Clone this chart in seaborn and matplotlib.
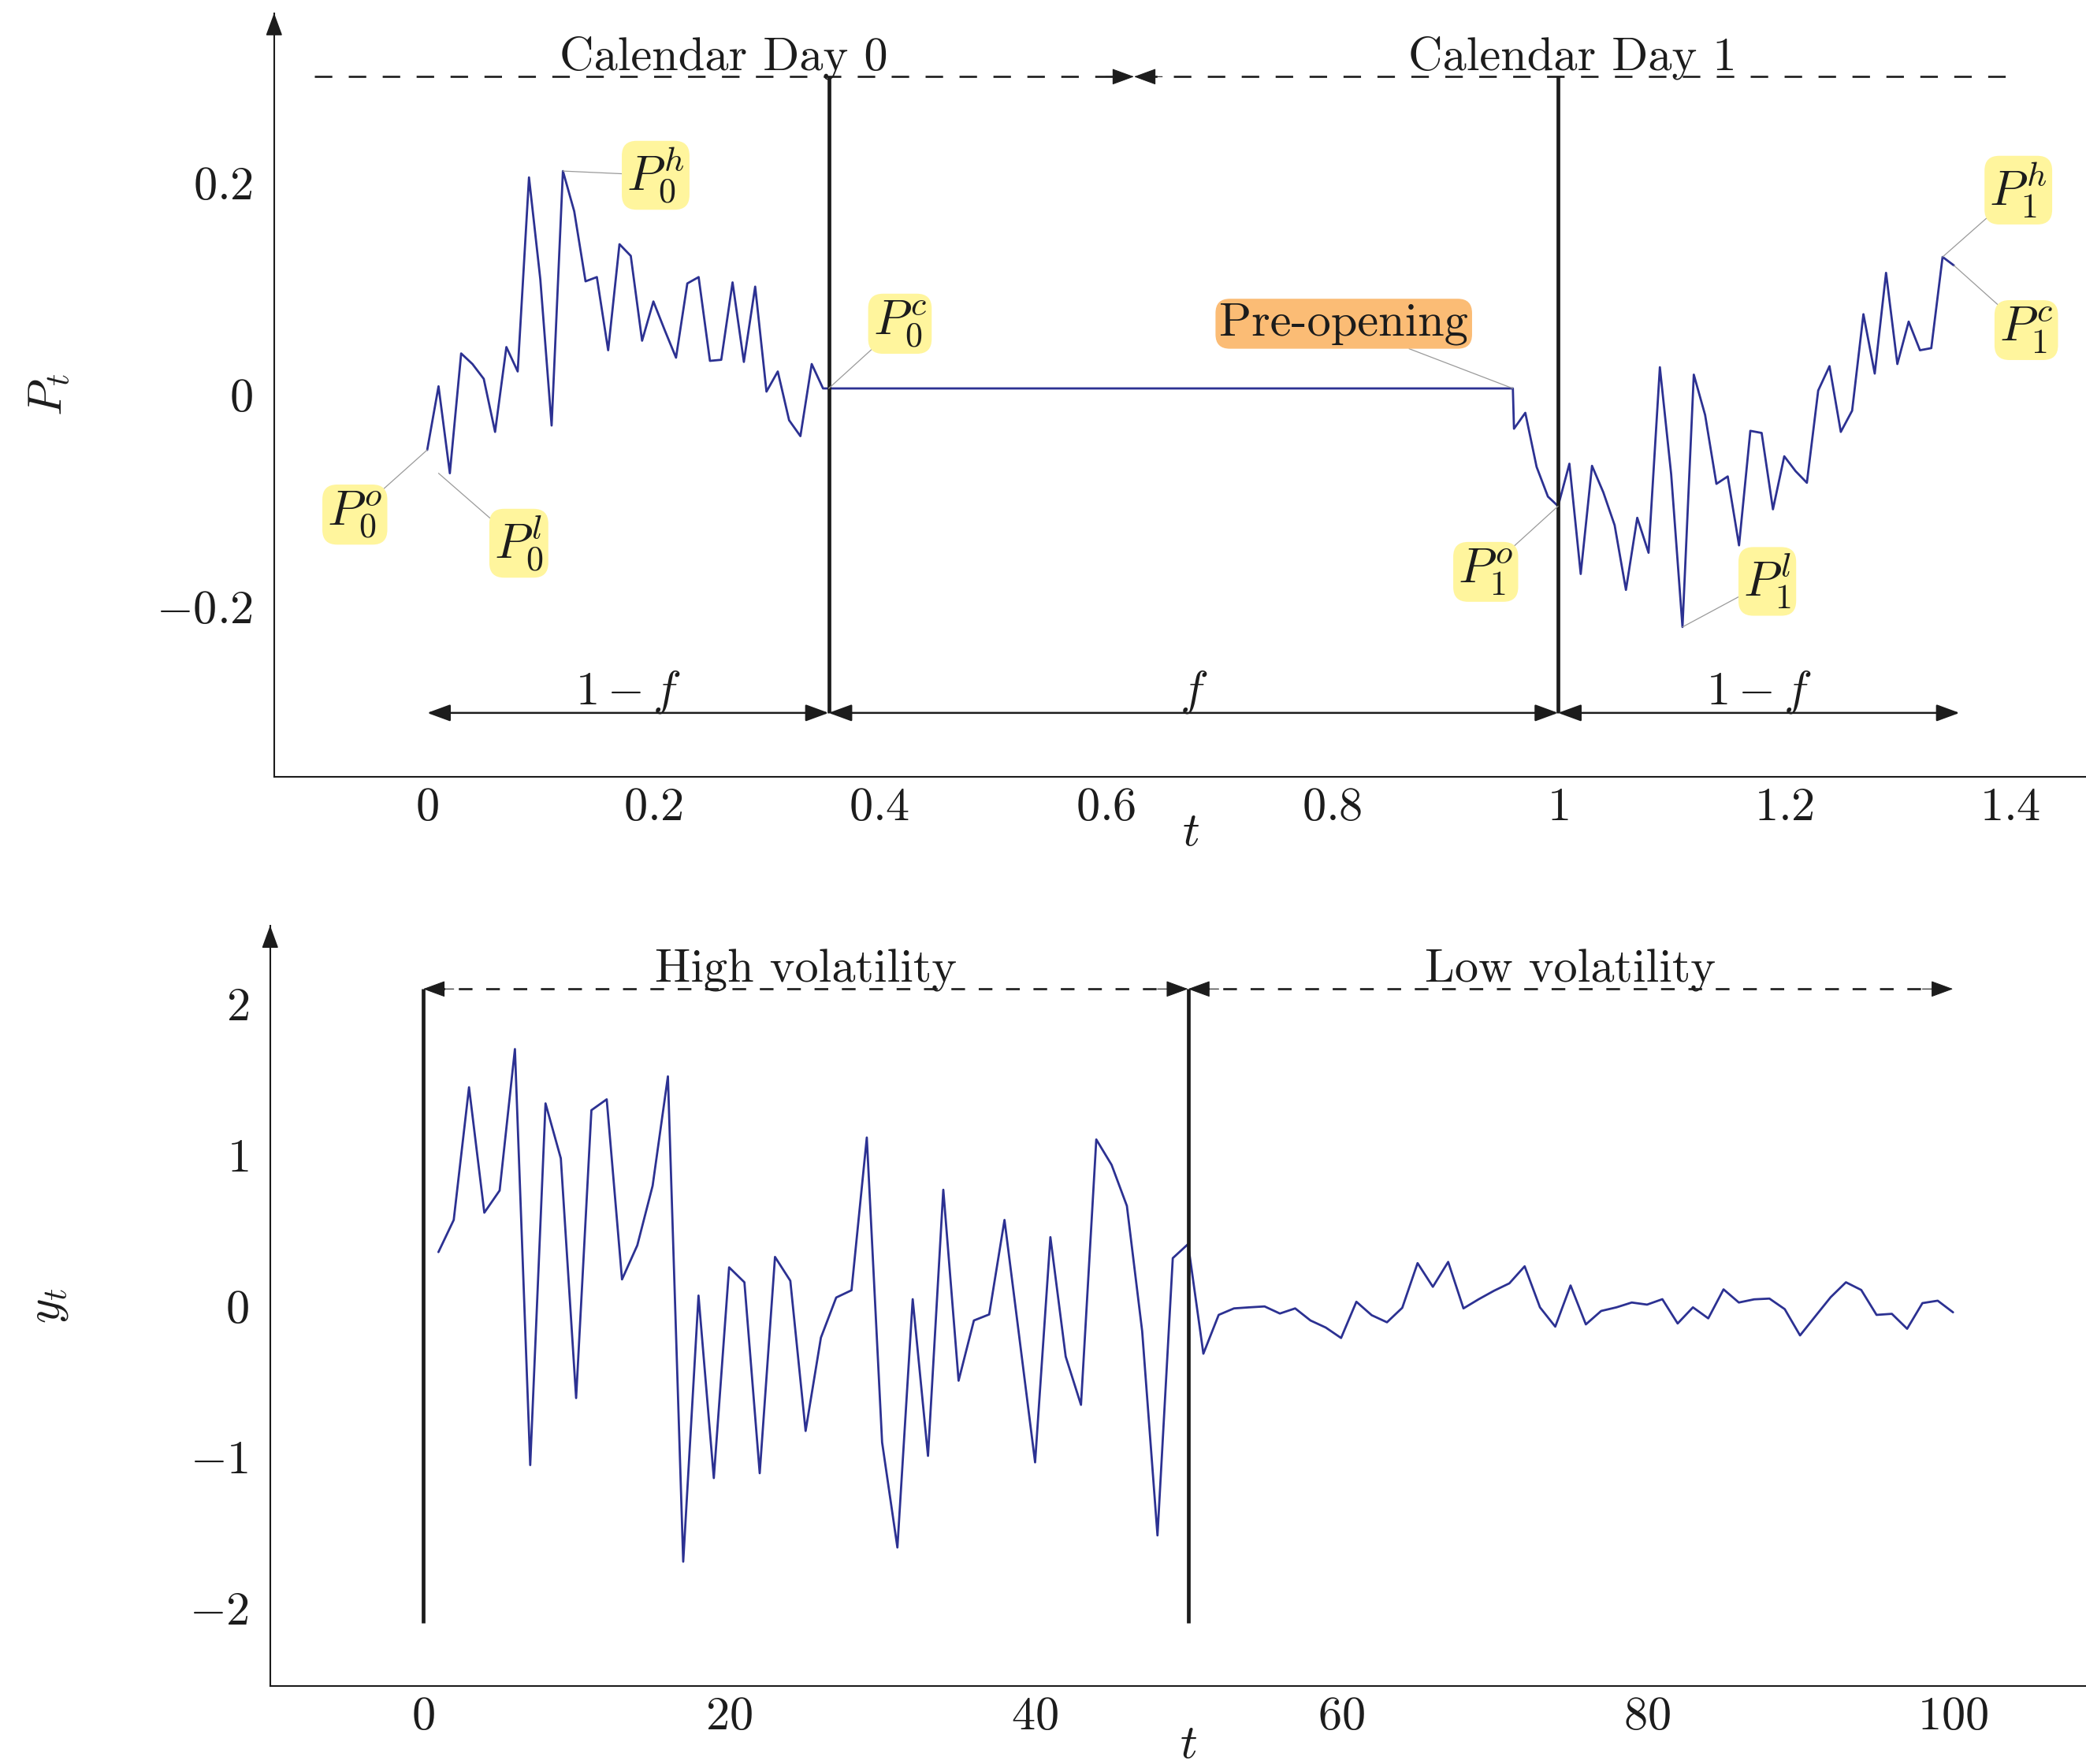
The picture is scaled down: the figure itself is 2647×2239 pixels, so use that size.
import numpy as np
import pandas as pd
import matplotlib
matplotlib.use("Agg")
import matplotlib.pyplot as plt
import seaborn as sns

# --- top panel: price path over two calendar days ---
day0_t = np.round(np.arange(36) * 0.01, 2)
day0_p = [-0.052, 0.008, -0.074, 0.039, 0.029, 0.015, -0.035, 0.045, 0.022, 0.205,
          0.109, -0.029, 0.211, 0.173, 0.107, 0.111, 0.042, 0.142, 0.131, 0.051,
          0.088, 0.061, 0.035, 0.105, 0.111, 0.032, 0.033, 0.106, 0.031, 0.102,
          0.003, 0.022, -0.024, -0.039, 0.029, 0.006]
pre_t = [0.96, 0.961, 0.971, 0.981, 0.991]
pre_p = [0.006, -0.032, -0.017, -0.068, -0.096]
day1_t = np.round(1 + np.arange(36) * 0.01, 2)
day1_p = [-0.105, -0.065, -0.169, -0.067, -0.092, -0.123, -0.184, -0.116, -0.149, 0.026,
          -0.075, -0.219, 0.019, -0.019, -0.084, -0.077, -0.142, -0.034, -0.036, -0.108,
          -0.058, -0.072, -0.083, 0.004, 0.027, -0.035, -0.015, 0.076, 0.020, 0.115,
          0.029, 0.069, 0.042, 0.044, 0.130, 0.122]

# --- bottom panel: returns, high then low volatility ---
ret_t = np.arange(1, 101)
ret_y = [0.357, 0.570, 1.449, 0.618, 0.765, 1.702, -1.054, 1.342, 0.978, -0.610,
         1.297, 1.369, 0.176, 0.402, 0.796, 1.521, -1.694, 0.069, -1.140, 0.256,
         0.157, -1.108, 0.325, 0.167, -0.828, -0.210, 0.056, 0.104, 1.116, -0.903,
         -1.600, 0.045, -0.993, 0.770, -0.495, -0.096, -0.056, 0.570, -0.232, -1.036,
         0.456, -0.335, -0.655, 1.103, 0.935, 0.663, -0.168, -1.520, 0.317, 0.410,
         -0.316, -0.059, -0.016, -0.009, -0.003, -0.050, -0.016, -0.096, -0.143, -0.212,
         0.028, -0.061, -0.108, -0.012, 0.284, 0.127, 0.292, -0.016, 0.045, 0.101,
         0.150, 0.263, -0.009, -0.137, 0.136, -0.122, -0.033, -0.009, 0.023, 0.009,
         0.045, -0.116, -0.009, -0.082, 0.110, 0.023, 0.044, 0.049, -0.021, -0.195,
         -0.068, 0.058, 0.157, 0.106, -0.059, -0.052, -0.151, 0.019, 0.035, -0.042]

# label text, label position, point it refers to
top_labels = [
    (r"$P_0^o$", (-0.064, -0.113), (0.0, -0.052)),
    (r"$P_0^l$", (0.081, -0.140), (0.01, -0.074)),
    (r"$P_0^h$", (0.202, 0.207), (0.12, 0.211)),
    (r"$P_0^c$", (0.418, 0.067), (0.355, 0.006)),
    (r"$P_1^o$", (0.936, -0.167), (1.0, -0.105)),
    (r"$P_1^l$", (1.185, -0.176), (1.11, -0.219)),
    (r"$P_1^h$", (1.407, 0.193), (1.34, 0.130)),
    (r"$P_1^c$", (1.414, 0.061), (1.35, 0.122)),
]

LINE = "#2c3192"
INK = "#1c1c1c"
FS = 43.5
HEAD = "-|>,head_length=0.9,head_width=0.33"
HEAD2 = "<|-|>,head_length=0.9,head_width=0.33"

sns.set_theme(style="white")
plt.rcParams["font.family"] = ["cmr10", "DejaVu Serif"]
plt.rcParams["mathtext.fontset"] = "cm"
plt.rcParams["axes.unicode_minus"] = False
plt.rcParams["lines.scale_dashes"] = False

fig = plt.figure(figsize=(26.47, 22.39), dpi=100)
ax1 = fig.add_axes([0.1314, 0.5598, 0.8790, 0.4328])
ax2 = fig.add_axes([0.1295, 0.0440, 0.8801, 0.4313])


def style_axes(ax):
    sns.despine(ax=ax)
    for s in ("left", "bottom"):
        ax.spines[s].set_color(INK)
        ax.spines[s].set_linewidth(1.5)
    ax.tick_params(axis="x", direction="inout", length=18, width=0.8,
                   color="#a0a0a0", pad=0.5, labelsize=FS, labelcolor=INK)
    ax.tick_params(axis="y", direction="inout", length=36, width=0.8,
                   color="#a0a0a0", pad=1.5, labelsize=FS, labelcolor=INK)
    # arrow tip on the y axis
    ax.annotate("", xy=(0, 1), xycoords="axes fraction", xytext=(0, 0.97),
                arrowprops=dict(arrowstyle=HEAD, mutation_scale=20, color=INK,
                                lw=1.2, shrinkA=0, shrinkB=0),
                annotation_clip=False)


def head(ax, x_from, x_to, y):
    ax.annotate("", xy=(x_to, y), xytext=(x_from, y),
                arrowprops=dict(arrowstyle=HEAD, mutation_scale=20, color=INK,
                                lw=0.8, shrinkA=0, shrinkB=0))


def over(ax, text, x, y, dy):
    ax.annotate(text, xy=(x, y), xytext=(0, dy), textcoords="offset points",
                ha="center", va="baseline", fontsize=FS, color=INK)


# ---------- top panel ----------
top = pd.DataFrame({
    "t": np.concatenate([day0_t, pre_t, day1_t]),
    "P": np.concatenate([day0_p, pre_p, day1_p]),
})
sns.lineplot(data=top, x="t", y="P", ax=ax1, color=LINE, lw=2.0,
             estimator=None, sort=False, zorder=3)
ax1.set_xlim(-0.1354, 1.486)
ax1.set_ylim(-0.36, 0.36)

ax1.vlines([0.355, 1.0], -0.3, 0.3, color=INK, lw=3.4, zorder=4)

# calendar day dashed arrows
ax1.plot([-0.1, 0.62], [0.3, 0.3], color=INK, lw=1.9, ls=(0, (16, 15)))
ax1.plot([0.63, 1.4], [0.3, 0.3], color=INK, lw=1.9, ls=(0, (16, 15)))
head(ax1, 0.60, 0.625, 0.3)
head(ax1, 0.65, 0.625, 0.3)
over(ax1, "Calendar Day 0", 0.2625, 0.3, 6.5)
over(ax1, "Calendar Day 1", 1.0125, 0.3, 6.5)

# trading / non-trading spans
for a, b, lab in [(0.0, 0.355, r"$1-f$"), (0.355, 1.0, r"$f$"), (1.0, 1.355, r"$1-f$")]:
    ax1.annotate("", xy=(b, -0.3), xytext=(a, -0.3),
                 arrowprops=dict(arrowstyle=HEAD2, mutation_scale=20, color=INK,
                                 lw=1.8, shrinkA=0, shrinkB=0))
    over(ax1, lab, (a + b) / 2, -0.3, 8)

conn = dict(arrowstyle="-", color="#9a9a9a", lw=0.9, shrinkA=0, shrinkB=0)
for text, pos, pt in top_labels:
    ax1.annotate(text, xy=pt, xytext=pos, ha="center", va="center", fontsize=FS + 1.5,
                 color=INK, zorder=6,
                 bbox=dict(boxstyle="round,pad=0.1,rounding_size=0.3",
                           fc="#fff59d", ec="none"),
                 arrowprops=conn)
ax1.annotate("Pre-opening", xy=(0.96, 0.006), xytext=(0.8105, 0.067),
             ha="center", va="center", fontsize=FS, color=INK, zorder=6,
             bbox=dict(boxstyle="round,pad=0.08,rounding_size=0.3",
                       fc="#fbbc75", ec="none"),
             arrowprops=conn)

ax1.set_xticks([0, 0.2, 0.4, 0.6, 0.8, 1.0, 1.2, 1.4],
               labels=[r"$0$", r"$0.2$", r"$0.4$", r"$0.6$", r"$0.8$", r"$1$", r"$1.2$", r"$1.4$"])
ax1.set_yticks([-0.2, 0, 0.2], labels=[r"$-0.2$", r"$0$", r"$0.2$"])
ax1.set_xlabel(r"$t$", fontsize=FS, color=INK, va="center")
ax1.xaxis.set_label_coords(0.5, -0.0747)
ax1.set_ylabel(r"$P_t$", fontsize=FS, color=INK, va="center")
ax1.yaxis.set_label_coords(-0.1228, 0.5)
style_axes(ax1)

# ---------- bottom panel ----------
ret = pd.DataFrame({"t": ret_t, "y": ret_y})
sns.lineplot(data=ret, x="t", y="y", ax=ax2, color=LINE, lw=2.0,
             estimator=None, sort=False, zorder=3)
ax2.set_xlim(-10, 110)
ax2.set_ylim(-2.52, 2.52)

ax2.vlines([0, 50], -2.1, 2.1, color=INK, lw=3.4, zorder=4)
ax2.plot([0.5, 49.5], [2.1, 2.1], color=INK, lw=1.9, ls=(0, (12.5, 12.5)))
ax2.plot([50.5, 99.5], [2.1, 2.1], color=INK, lw=1.9, ls=(0, (12.5, 12.5)))
head(ax2, 2, 0, 2.1)
head(ax2, 48, 50, 2.1)
head(ax2, 52, 50, 2.1)
head(ax2, 98, 100, 2.1)
over(ax2, "High volatility", 25, 2.1, 6.5)
over(ax2, "Low volatility", 75, 2.1, 6.5)

ax2.set_xticks([0, 20, 40, 60, 80, 100],
               labels=[r"$0$", r"$20$", r"$40$", r"$60$", r"$80$", r"$100$"])
ax2.set_yticks([-2, -1, 0, 1, 2], labels=[r"$-2$", r"$-1$", r"$0$", r"$1$", r"$2$"])
ax2.set_xlabel(r"$t$", fontsize=FS, color=INK, va="center")
ax2.xaxis.set_label_coords(0.5, -0.0779)
ax2.set_ylabel(r"$y_t$", fontsize=FS, color=INK, va="center")
ax2.yaxis.set_label_coords(-0.1205, 0.5)
style_axes(ax2)

fig.savefig("out.png", dpi=100, facecolor="white")
